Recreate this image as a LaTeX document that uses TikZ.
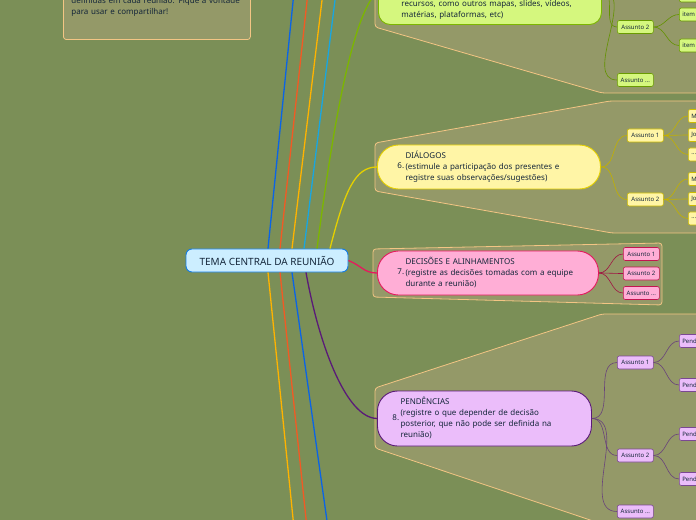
\documentclass[tikz,border=0pt]{standalone}
\usepackage{fontspec}
\setmainfont{Noto Sans}
\usetikzlibrary{positioning}
\definecolor{fundo}{HTML}{7B8F57}
\definecolor{grupofill}{HTML}{949968}
\definecolor{grupoline}{HTML}{F3C584}
\definecolor{texto}{HTML}{14263A}
\definecolor{azul}{HTML}{0A64E6}
\definecolor{laranja}{HTML}{F25A24}
\definecolor{ambar}{HTML}{FFB300}
\definecolor{ciano}{HTML}{19A6E0}
\definecolor{verde}{HTML}{7CB600}
\definecolor{amarelo}{HTML}{E5D000}
\definecolor{rosa}{HTML}{E5195E}
\definecolor{roxo}{HTML}{5A1A78}
\definecolor{limao}{HTML}{D5F77E}
\definecolor{creme}{HTML}{FFF5A6}
\definecolor{chiclete}{HTML}{FFAED6}
\definecolor{lilas}{HTML}{EBBDFA}
\definecolor{celeste}{HTML}{CCEEFF}
\newcommand\fmain{\fontsize{8bp}{11bp}\selectfont}
\newcommand\fsub{\fontsize{6bp}{7bp}\selectfont}
\tikzset{
  grupo/.style={fill=grupofill, draw=grupoline, line width=0.8bp, rounded corners=3bp},
  nota/.style={fill=grupofill, draw=grupoline, line width=0.8bp, rounded corners=3bp,
    text width=171bp, inner xsep=8bp, inner ysep=5bp, align=left, font=\fmain, text=texto},
  central/.style={rectangle, rounded corners=6bp, fill=celeste, draw=ciano!75!blue, line width=0.9bp,
    minimum width=162bp, minimum height=23bp, font=\fontsize{10bp}{12bp}\selectfont, text=texto},
  topico/.style={rectangle, line width=0.9bp, inner ysep=5bp, align=left,
    font=\fmain, text=texto},
  assunto/.style={rectangle, rounded corners=2bp, line width=0.6bp, inner sep=0bp,
    minimum width=36bp, minimum height=13bp, font=\fsub, text=texto},
  itembox/.style={rectangle, rounded corners=2bp, line width=0.6bp, inner xsep=3bp, inner ysep=0bp,
    text width=34bp, align=left, minimum height=13bp, font=\fsub, text=texto},
  ramo/.style={line width=1.3bp},
  galho/.style={line width=0.6bp},
}
\begin{document}
\begin{tikzpicture}[x=1bp, y=-1bp]
\useasboundingbox (0,0) rectangle (696,520);
\clip (0,0) rectangle (696,520);
\fill[fundo] (0,0) rectangle (696,520);

% limites dos grupos
\draw[grupo] (375,-20) -- (375,27) -- (602,93) -- (720,93) -- (720,-20) -- cycle;
\draw[grupo] (375,191) -- (375,143) -- (610,101) -- (720,101) -- (720,233) -- (612,233) -- cycle;
\draw[grupo] (373,249) -- (662,243) -- (662,305) -- (373,297) -- cycle;
\draw[grupo] (375,448) -- (375,388) -- (602,314) -- (720,314) -- (720,540) -- (650,540) -- cycle;

% nota
\node[nota, anchor=south west] (nota) at (63,40)
  {\mbox{}\\\mbox{}\\definidas em cada reunião. Fique à vontade\\para usar e compartilhar!\\[9bp]\mbox{}};

% tema central
\node[central] (tema) at (267,260.5) {TEMA CENTRAL DA REUNIÃO};

% topicos
\node[topico, anchor=south west, fill=limao, draw=verde, rounded corners=12bp,
  inner xsep=23bp, text width=177bp] (materiais) at (378,25)
  {\mbox{}\\\mbox{}\\\mbox{}\\\mbox{}\\recursos, como outros mapas, slides, vídeos,\\matérias, plataformas, etc)};
\node[topico, anchor=west, fill=creme, draw=amarelo, rounded corners=21bp,
  inner xsep=20bp, text width=183bp, minimum height=44bp] (dialogos) at (377,167)
  {6.\,\begin{tabular}[c]{@{}l@{}}DIÁLOGOS\\(estimule a participação dos presentes e\\registre suas observações/sugestões)\end{tabular}};
\node[topico, anchor=west, fill=chiclete, draw=rosa, rounded corners=21bp,
  inner xsep=20bp, text width=181bp, minimum height=44bp] (decisoes) at (377,273)
  {7.\,\begin{tabular}[c]{@{}l@{}}DECISÕES E ALINHAMENTOS\\(registre as decisões tomadas com a equipe\\durante a reunião)\end{tabular}};
\node[topico, anchor=west, fill=lilas, draw=roxo, rounded corners=20bp,
  inner xsep=15bp, text width=184bp, minimum height=55bp] (pendencias) at (377,418.5)
  {8.\,\begin{tabular}[c]{@{}l@{}}PENDÊNCIAS\\(registre o que depender de decisão\\posterior, que não pode ser definida na\\reunião)\end{tabular}};

% assuntos e itens
\begin{scope}[every node/.append style={fill=limao, draw=verde!85!black}]
  \node[assunto, anchor=west] (m2) at (617,27) {Assunto 2};
  \node[assunto, anchor=west] (m3) at (617,80) {Assunto ...};
  \node[itembox, anchor=west] (m0a) at (679,-4.5) {item};
  \node[itembox, anchor=west] (m2a) at (679,14.5) {item};
  \node[itembox, anchor=west] (m2b) at (679,45.5) {item};
\end{scope}
\begin{scope}[every node/.append style={fill=creme, draw=amarelo!90!black}]
  \node[assunto, anchor=west] (d1) at (627,135.5) {Assunto 1};
  \node[assunto, anchor=west] (d2) at (627,199.5) {Assunto 2};
  \node[itembox, anchor=west] (d1a) at (688,116) {M};
  \node[itembox, anchor=west] (d1b) at (688,135) {Jo};
  \node[itembox, anchor=west] (d1c) at (688,154.5) {...};
  \node[itembox, anchor=west] (d2a) at (688,179) {M};
  \node[itembox, anchor=west] (d2b) at (688,199) {Jo};
  \node[itembox, anchor=west] (d2c) at (688,218.5) {...};
\end{scope}
\begin{scope}[every node/.append style={fill=chiclete, draw=rosa!85!black}]
  \node[assunto, anchor=west] (k1) at (623,254) {Assunto 1};
  \node[assunto, anchor=west] (k2) at (623,273.5) {Assunto 2};
  \node[assunto, anchor=west] (k3) at (623,293) {Assunto ...};
\end{scope}
\begin{scope}[every node/.append style={fill=lilas, draw=roxo!80}]
  \node[assunto, anchor=west] (p1) at (617,362.5) {Assunto 1};
  \node[assunto, anchor=west] (p2) at (617,455.5) {Assunto 2};
  \node[assunto, anchor=west] (p3) at (617,511.5) {Assunto ...};
  \node[itembox, anchor=west] (p1a) at (679,341) {Pend};
  \node[itembox, anchor=west] (p1b) at (679,385) {Pend};
  \node[itembox, anchor=west] (p2a) at (679,434) {Pend};
  \node[itembox, anchor=west] (p2b) at (679,479) {Pend};
\end{scope}

% pontas dos ramos fora da imagem
\coordinate (t1) at (294,-8);
\coordinate (t2) at (308,-8);
\coordinate (t3) at (323,-8);
\coordinate (t4) at (336,-8);
\coordinate (t9) at (294,528);
\coordinate (t10) at (307,528);
\coordinate (t11) at (328,528);
\coordinate (m1) at (653,-28);

% ramos do tema central
\draw[ramo, azul]    ([xshift=1bp]tema.north) -- (t1);
\draw[ramo, laranja] ([xshift=13bp]tema.north) -- (t2);
\draw[ramo, ambar]   ([xshift=25bp]tema.north) -- (t3);
\draw[ramo, ciano]   ([xshift=37bp]tema.north) -- (t4);
\draw[ramo, verde]   ([xshift=50bp]tema.north) .. controls (330,150) and (350,15) .. (materiais.west);
\draw[ramo, amarelo] ([xshift=63bp]tema.north) .. controls (345,190) and (355,167) .. (dialogos.west);
\draw[ramo, rosa]    (tema.east) .. controls (362,266) and (364,273) .. (decisoes.west);
\draw[ramo, roxo]    ([xshift=39bp]tema.south) .. controls (318,340) and (345,418) .. (pendencias.west);
\draw[ramo, ambar]   ([xshift=1bp]tema.south) -- (t9);
\draw[ramo, laranja] ([xshift=13bp]tema.south) -- (t10);
\draw[ramo, azul]    ([xshift=25bp]tema.south) -- (t11);

% galhos
\begin{scope}[verde!80!black]
  \foreach \a in {m2,m3} \draw[galho] (materiais.east) to[out=0, in=180] (\a.west);
  \draw[galho] (m1) to[out=0, in=180] (m0a.west);
  \foreach \a in {m2a,m2b} \draw[galho] (m2.east) to[out=0, in=180] (\a.west);
\end{scope}
\begin{scope}[amarelo!85!black]
  \foreach \a in {d1,d2} \draw[galho] (dialogos.east) to[out=0, in=180] (\a.west);
  \foreach \a in {d1a,d1b,d1c} \draw[galho] (d1.east) to[out=0, in=180] (\a.west);
  \foreach \a in {d2a,d2b,d2c} \draw[galho] (d2.east) to[out=0, in=180] (\a.west);
\end{scope}
\begin{scope}[rosa!70!black]
  \foreach \a in {k1,k2,k3} \draw[galho] (decisoes.east) to[out=0, in=180] (\a.west);
\end{scope}
\begin{scope}[roxo!60!gray]
  \foreach \a in {p1,p2,p3} \draw[galho] (pendencias.east) to[out=0, in=180] (\a.west);
  \foreach \a in {p1a,p1b} \draw[galho] (p1.east) to[out=0, in=180] (\a.west);
  \foreach \a in {p2a,p2b} \draw[galho] (p2.east) to[out=0, in=180] (\a.west);
\end{scope}
\end{tikzpicture}
\end{document}
